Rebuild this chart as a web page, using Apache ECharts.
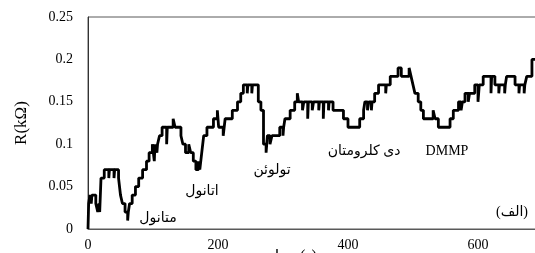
<!DOCTYPE html>
<html>
<head>
<meta charset="utf-8">
<script src="https://cdn.jsdelivr.net/npm/echarts@6/dist/echarts.min.js"></script>
<style>
  html, body { margin: 0; padding: 0; background: #fff; }
  #chart { width: 535px; height: 253px; }
</style>
</head>
<body>
<div id="chart"></div>
<script>
// time (s) where the reading changes, and resistance (kOhm) from that point on
var times = [0, 1, 3, 5, 6, 12, 15, 17, 18, 20, 25, 32, 33, 40, 41, 47, 50, 53, 57, 61, 62, 64, 68, 73, 78, 84,
  90, 94, 99, 102, 103, 106, 107, 110, 114, 121, 122, 131, 134, 143, 146, 150, 155, 158, 162, 166, 170, 172, 175, 178,
  183, 193, 199, 201, 208, 211, 222, 230, 235, 239, 245, 246, 252, 253, 262, 266, 270, 274, 276, 280, 283,
  295, 300, 301, 303, 311, 318, 322, 324, 330, 332, 338, 339, 345, 347, 355, 356, 362, 363, 370, 371, 377,
  393, 400, 418, 424, 426, 430, 432, 436, 437, 441, 447, 458, 459, 465, 477, 482, 494, 497, 500, 503, 508,
  512, 516, 531, 534, 539, 557, 562, 570, 574, 576, 580, 585, 587, 595, 600, 602, 608, 620, 621, 626, 632,
  633, 641, 642, 644, 657, 663, 664, 671, 672, 675, 683, 690];
var resist = [0, 0.03, 0.04, 0.03, 0.04, 0.03, 0.02, 0.03, 0.02, 0.06, 0.07, 0.06, 0.07, 0.06, 0.07, 0.06, 0.04, 0.03, 0.02, 0.01, 0.02, 0.03, 0.04, 0.05, 0.06, 0.07,
  0.08, 0.09, 0.1, 0.08, 0.1, 0.09, 0.1, 0.11, 0.12, 0.1, 0.12, 0.13, 0.12, 0.11, 0.1, 0.09, 0.1, 0.09, 0.08, 0.07, 0.08, 0.07, 0.09, 0.11,
  0.12, 0.13, 0.14, 0.12, 0.11, 0.13, 0.14, 0.15, 0.16, 0.17, 0.16, 0.17, 0.16, 0.17, 0.15, 0.14, 0.1, 0.09, 0.11, 0.1, 0.11,
  0.12, 0.11, 0.12, 0.13, 0.14, 0.15, 0.16, 0.15, 0.14, 0.15, 0.13, 0.15, 0.14, 0.15, 0.14, 0.15, 0.13, 0.15, 0.14, 0.15, 0.14,
  0.13, 0.12, 0.13, 0.14, 0.15, 0.14, 0.15, 0.14, 0.15, 0.16, 0.17, 0.16, 0.17, 0.18, 0.19, 0.18, 0.19, 0.18, 0.17, 0.16, 0.15,
  0.14, 0.13, 0.14, 0.13, 0.12, 0.13, 0.14, 0.15, 0.14, 0.15, 0.16, 0.15, 0.16, 0.17, 0.15, 0.17, 0.18, 0.16, 0.18, 0.17, 0.16,
  0.17, 0.16, 0.17, 0.18, 0.17, 0.16, 0.17, 0.16, 0.17, 0.18, 0.2, 0.2];

var yTicks = [0, 0.05, 0.1, 0.15, 0.2, 0.25];
var xTicks = [0, 200, 400, 600];

// gas annotations: [text, x px, y px]
var notes = [
  ['متانول', 158, 218],
  ['اتانول', 202, 191],
  ['تولوئن', 272, 170],
  ['دی کلرومتان', 364, 151],
  ['DMMP', 447, 151],
  ['(الف)', 512, 212]
];

var myChart = echarts.init(document.getElementById('chart'));
var serif = '"Liberation Serif", "DejaVu Serif", serif';

var points = times.map(function (t, i) { return [t, resist[i]]; });

var graphics = notes.map(function (n) {
  return {
    type: 'text', x: n[1], y: n[2],
    style: {
      text: n[0], fill: '#000', font: '14px "Liberation Serif", "DejaVu Sans", serif',
      textAlign: 'center', textVerticalAlign: 'middle'
    }
  };
});
graphics.push({
  type: 'text', x: 290, y: 249,
  style: { text: 'زمان (s)', fill: '#000', font: '16px "Liberation Serif", "DejaVu Sans", serif', textAlign: 'center', textVerticalAlign: 'top' }
});

option = {
  animation: false,
  backgroundColor: '#fff',
  grid: {
    left: 88, top: 17, right: -8, bottom: 24,
    outerBoundsMode: 'none', containLabel: false,
    show: true, borderColor: '#595959', borderWidth: 1
  },
  xAxis: {
    type: 'value', min: 0, max: 700, interval: 200,
    axisLine: { show: true, lineStyle: { color: '#595959' } },
    axisTick: { show: false },
    splitLine: { show: false },
    axisLabel: {
      margin: 9, fontFamily: serif, fontSize: 14, color: '#000',
      formatter: function (v) { return xTicks.indexOf(v) >= 0 ? String(v) : ''; }
    }
  },
  yAxis: {
    type: 'value', min: 0, max: 0.25, interval: 0.05,
    name: 'R(kΩ)', nameLocation: 'middle', nameGap: 58,
    nameTextStyle: { fontFamily: serif, fontSize: 17, color: '#000' },
    axisLine: { show: true, lineStyle: { color: '#333' } },
    axisTick: { show: false },
    splitLine: { show: false },
    axisLabel: {
      margin: 15, fontFamily: serif, fontSize: 14, color: '#000',
      formatter: function (v) {
        var i = yTicks.findIndex(function (t) { return Math.abs(t - v) < 1e-9; });
        return i >= 0 ? String(yTicks[i]) : '';
      }
    }
  },
  series: [{
    type: 'line',
    step: 'end',
    data: points,
    showSymbol: false,
    lineStyle: { color: '#000', width: 2.8 }
  }],
  graphic: graphics
};

myChart.setOption(option, true);
</script>
</body>
</html>
